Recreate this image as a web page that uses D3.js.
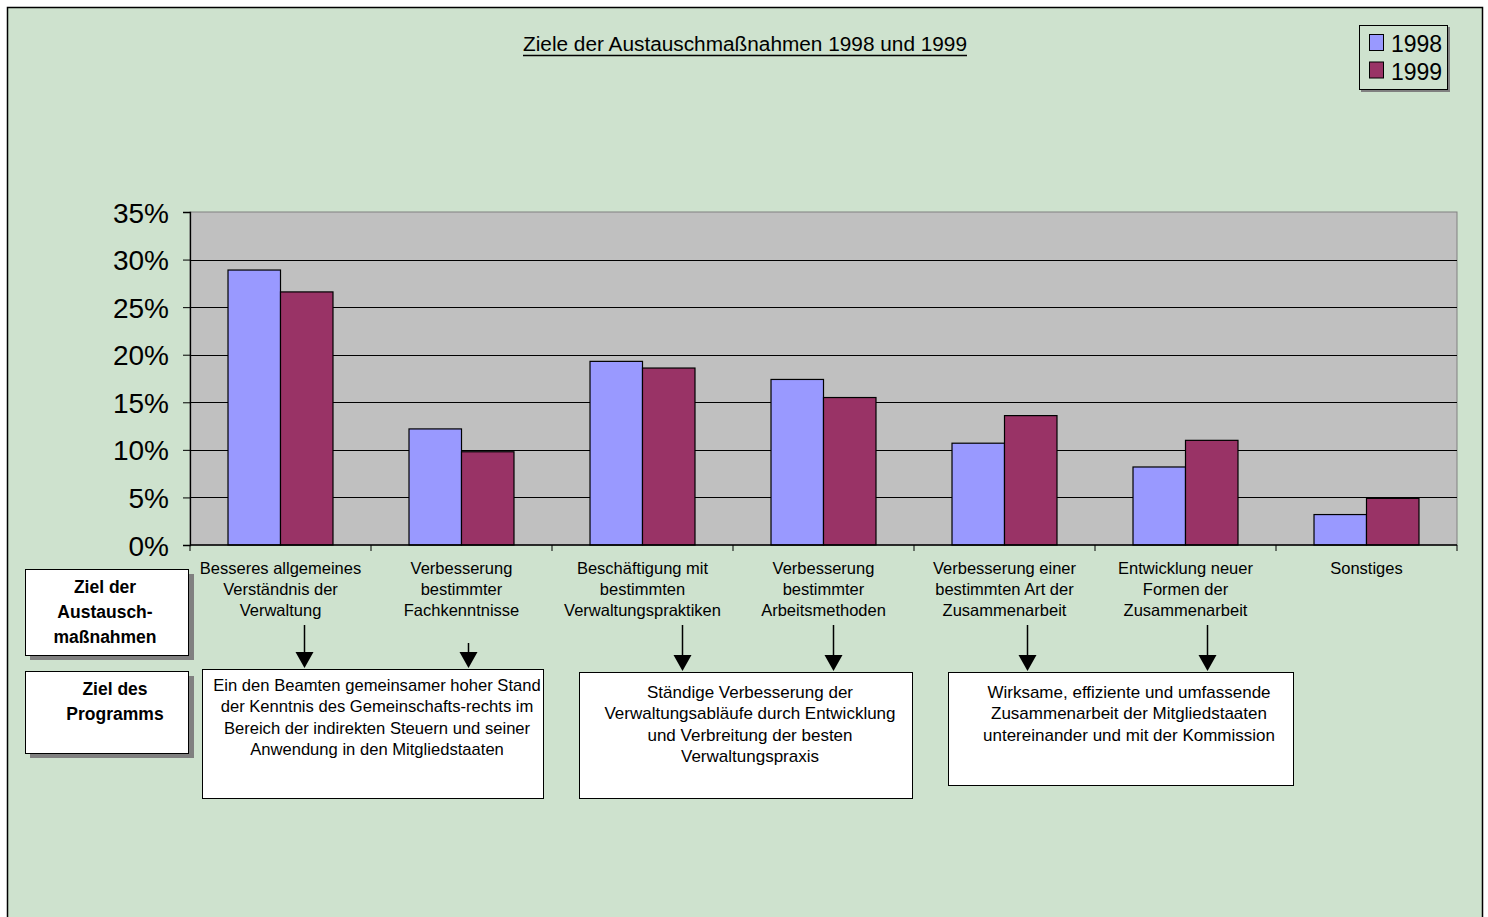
<!DOCTYPE html>
<html>
<head>
<meta charset="utf-8">
<script src="https://cdn.jsdelivr.net/npm/d3@7"></script>
<style>
  html, body { margin: 0; padding: 0; background: #fff; }
  svg { display: block; font-family: "Liberation Sans", Arial, sans-serif; }
</style>
</head>
<body>
<svg id="chart" width="1488" height="917"></svg>
<script>
// categories (label lines as in the chart)
const categories = [
    ["Besseres allgemeines", "Verständnis der", "Verwaltung"],
    ["Verbesserung", "bestimmter", "Fachkenntnisse"],
    ["Beschäftigung mit", "bestimmten", "Verwaltungspraktiken"],
    ["Verbesserung", "bestimmter", "Arbeitsmethoden"],
    ["Verbesserung einer", "bestimmten Art der", "Zusammenarbeit"],
    ["Entwicklung neuer", "Formen der", "Zusammenarbeit"],
    ["Sonstiges"]
];
const series = ["1998", "1999"];
const values1998 = [0.289, 0.122, 0.193, 0.174, 0.107, 0.082, 0.032];
const values1999 = [0.266, 0.098, 0.186, 0.155, 0.136, 0.110, 0.049];
const yTicks = [0, 0.05, 0.10, 0.15, 0.20, 0.25, 0.30, 0.35];
const colors = ["#9999FF", "#993366"];

const title = "Ziele der Austauschmaßnahmen 1998 und 1999";
const rowLabels = [["Ziel der", "Austausch-", "maßnahmen"], ["Ziel des", "Programms"]];
const programmeGoals = [
    ["Ein den Beamten gemeinsamer hoher Stand", "der Kenntnis des Gemeinschafts-rechts im", "Bereich der indirekten Steuern und seiner", "Anwendung in den Mitgliedstaaten"],
    ["Ständige Verbesserung der", "Verwaltungsabläufe durch Entwicklung", "und Verbreitung der besten", "Verwaltungspraxis"],
    ["Wirksame, effiziente und umfassende", "Zusammenarbeit der Mitgliedstaaten", "untereinander und mit der Kommission"]
];
// which category points to which programme goal
const goalOfCategory = [0, 0, 1, 1, 2, 2];

const svg = d3.select("#chart");
const width = +svg.attr("width");
const height = +svg.attr("height");

// frame
svg.append("rect")
    .attr("x", 7.5).attr("y", 7.5)
    .attr("width", 1475).attr("height", height)
    .attr("fill", "#CEE2CE")
    .attr("stroke", "#000").attr("stroke-width", 1.5);

// title
svg.append("text")
    .attr("x", 745).attr("y", 51)
    .attr("text-anchor", "middle")
    .attr("font-size", 20)
    .attr("textLength", 444)
    .attr("lengthAdjust", "spacingAndGlyphs")
    .text(title);
svg.append("line")
    .attr("x1", 523).attr("x2", 967)
    .attr("y1", 55.5).attr("y2", 55.5)
    .attr("stroke", "#000").attr("stroke-width", 1.3);

// plot area
const plot = { left: 190, right: 1457, top: 212, bottom: 545 };

const x = d3.scaleBand()
    .domain(d3.range(categories.length))
    .range([plot.left, plot.right])
    .paddingInner(0.42)
    .paddingOuter(0.21);
const xOuter = d3.scaleBand()
    .domain(d3.range(categories.length))
    .range([plot.left, plot.right]);
const xSub = d3.scaleBand().domain(series).range([0, x.bandwidth()]);
const y = d3.scaleLinear().domain([0, 0.35]).range([plot.bottom, plot.top]);

svg.append("rect")
    .attr("x", plot.left).attr("y", plot.top)
    .attr("width", plot.right - plot.left).attr("height", plot.bottom - plot.top)
    .attr("fill", "#C0C0C0")
    .attr("stroke", "#808080").attr("stroke-width", 1);

// gridlines
svg.append("g")
    .selectAll("line")
    .data(yTicks.filter(d => d > 0 && d < 0.35))
    .join("line")
    .attr("x1", plot.left).attr("x2", plot.right)
    .attr("y1", d => Math.round(y(d)) + 0.5).attr("y2", d => Math.round(y(d)) + 0.5)
    .attr("stroke", "#000").attr("stroke-width", 1);

// bars
const rows = categories.map((c, i) => ({ i, values: [values1998[i], values1999[i]] }));
svg.append("g")
    .selectAll("g")
    .data(rows)
    .join("g")
    .attr("transform", d => `translate(${x(d.i)},0)`)
    .selectAll("rect")
    .data(d => d.values.map((v, k) => ({ key: series[k], v, k })))
    .join("rect")
    .attr("x", d => xSub(d.key))
    .attr("y", d => y(d.v))
    .attr("width", xSub.bandwidth())
    .attr("height", d => y(0) - y(d.v))
    .attr("fill", d => colors[d.k])
    .attr("stroke", "#000").attr("stroke-width", 1.2);

// y axis
const yAxis = svg.append("g")
    .attr("transform", `translate(${plot.left},0)`)
    .call(d3.axisLeft(y).tickValues(yTicks).tickFormat(d3.format(".0%")).tickSize(7).tickPadding(14));
yAxis.select(".domain").attr("stroke", "#000").attr("stroke-width", 1.3);
yAxis.selectAll(".tick line").attr("stroke", "#000");
yAxis.selectAll(".tick text")
    .attr("font-size", 28)
    .attr("font-family", "Liberation Sans, Arial, sans-serif")
    .attr("fill", "#000")
    .attr("dy", "0.36em");

// x axis
const xAxis = svg.append("g")
    .attr("transform", `translate(0,${plot.bottom})`);
xAxis.append("line")
    .attr("x1", plot.left).attr("x2", plot.right)
    .attr("stroke", "#000").attr("stroke-width", 1.3);
xAxis.selectAll("line.tk")
    .data(d3.range(categories.length + 1))
    .join("line")
    .attr("class", "tk")
    .attr("x1", d => d < categories.length ? xOuter(d) : plot.right)
    .attr("x2", d => d < categories.length ? xOuter(d) : plot.right)
    .attr("y1", 0).attr("y2", 6)
    .attr("stroke", "#000");

// category labels
svg.append("g")
    .selectAll("text")
    .data(categories)
    .join("text")
    .attr("text-anchor", "middle")
    .attr("font-size", 16.5)
    .attr("fill", "#000")
    .each(function (lines, i) {
        d3.select(this).selectAll("tspan")
            .data(lines)
            .join("tspan")
            .attr("x", xOuter(i) + xOuter.bandwidth() / 2)
            .attr("y", (d, j) => 574 + j * 21)
            .text(d => d);
    });

// legend
const legend = svg.append("g");
legend.append("rect")
    .attr("x", 1361).attr("y", 27).attr("width", 89).attr("height", 65)
    .attr("fill", "#808080");
legend.append("rect")
    .attr("x", 1359.5).attr("y", 25.5).attr("width", 88).attr("height", 64)
    .attr("fill", "#CEE2CE").attr("stroke", "#000").attr("stroke-width", 1);
series.forEach((s, k) => {
    legend.append("rect")
        .attr("x", 1369.5).attr("y", 34.5 + k * 27.5)
        .attr("width", 14).attr("height", 16)
        .attr("fill", colors[k]).attr("stroke", "#000").attr("stroke-width", 1);
    legend.append("text")
        .attr("x", 1391).attr("y", 52 + k * 27.5)
        .attr("font-size", 23)
        .text(s);
});

// left row labels (boxes with shadow)
const rowBoxes = [
    { y0: 569, y1: 655, cx: 105 },
    { y0: 671, y1: 753, cx: 115 }
];
rowBoxes.forEach((b, r) => {
    svg.append("rect")
        .attr("x", 30).attr("y", b.y0 + 5).attr("width", 164).attr("height", b.y1 - b.y0)
        .attr("fill", "#808080");
    svg.append("rect")
        .attr("x", 25.5).attr("y", b.y0 + 0.5).attr("width", 163).attr("height", b.y1 - b.y0)
        .attr("fill", "#fff").attr("stroke", "#000").attr("stroke-width", 1);
    svg.append("text")
        .attr("text-anchor", "middle")
        .attr("font-size", 17.5)
        .attr("font-weight", "bold")
        .selectAll("tspan")
        .data(rowLabels[r])
        .join("tspan")
        .attr("x", b.cx)
        .attr("y", (d, j) => b.y0 + 24 + j * 25)
        .text(d => d);
});

// programme goal boxes
const goalBoxes = [
    { x0: 202, x1: 543, y0: 669, y1: 798, cx: 377, ty: 691, fs: 16.6 },
    { x0: 579, x1: 912, y0: 672, y1: 798, cx: 750, ty: 698, fs: 17 },
    { x0: 948, x1: 1293, y0: 672, y1: 785, cx: 1129, ty: 698, fs: 17 }
];
goalBoxes.forEach((b, g) => {
    svg.append("rect")
        .attr("x", b.x0 + 0.5).attr("y", b.y0 + 0.5)
        .attr("width", b.x1 - b.x0).attr("height", b.y1 - b.y0)
        .attr("fill", "#fff").attr("stroke", "#000").attr("stroke-width", 1);
    svg.append("text")
        .attr("text-anchor", "middle")
        .attr("font-size", b.fs)
        .selectAll("tspan")
        .data(programmeGoals[g])
        .join("tspan")
        .attr("x", b.cx)
        .attr("y", (d, j) => b.ty + j * 21.3)
        .text(d => d);
});

// arrows from category labels to programme goals
const arrowOffsets = [23, 6, 39, 9, 22, 21];
const arrowTops = [625, 643, 625, 625, 625, 625];
goalOfCategory.forEach((g, i) => {
    const ax = Math.round(xOuter(i) + xOuter.bandwidth() / 2 + arrowOffsets[i]) + 0.5;
    const tip = goalBoxes[g].y0 - 1;
    svg.append("line")
        .attr("x1", ax).attr("x2", ax)
        .attr("y1", arrowTops[i]).attr("y2", tip - 14)
        .attr("stroke", "#000").attr("stroke-width", 1.5);
    svg.append("path")
        .attr("d", `M${ax - 9},${tip - 16}L${ax + 9},${tip - 16}L${ax},${tip}Z`)
        .attr("fill", "#000");
});
</script>
</body>
</html>
